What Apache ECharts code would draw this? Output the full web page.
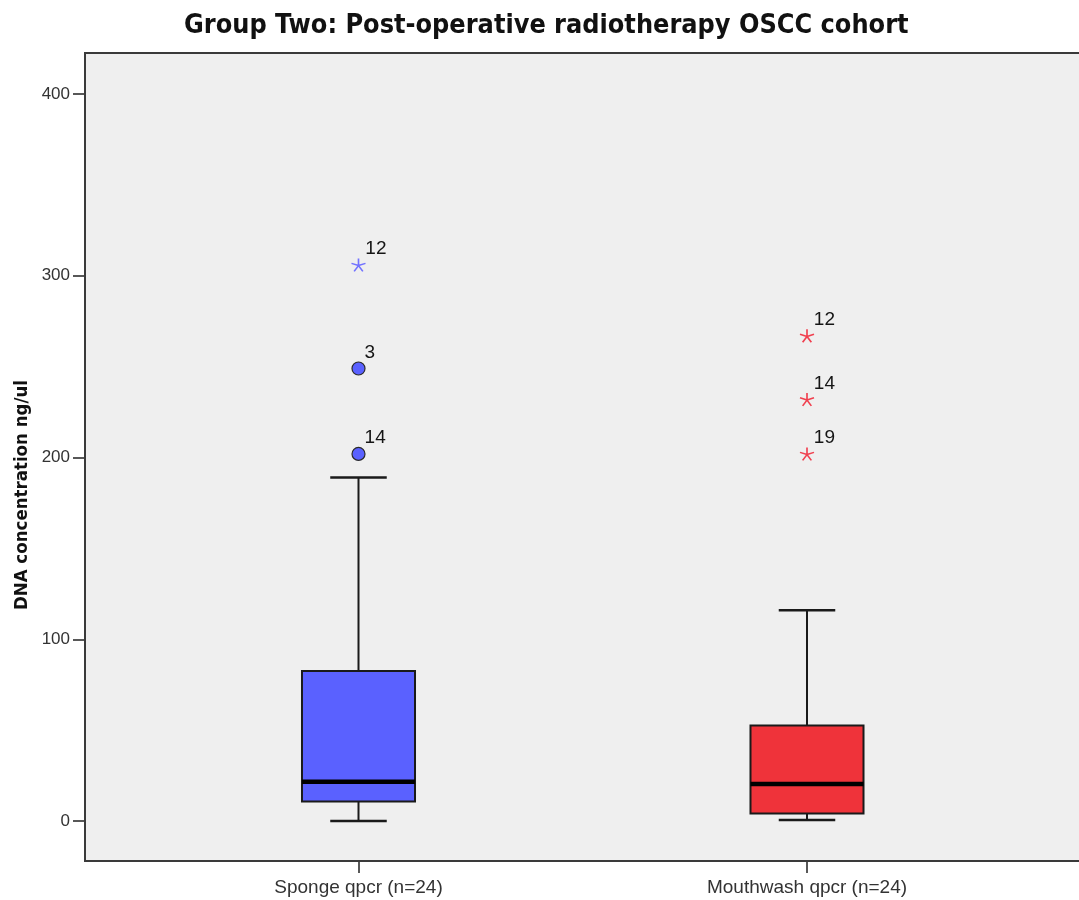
<!DOCTYPE html>
<html>
<head>
<meta charset="utf-8">
<script src="https://cdn.jsdelivr.net/npm/echarts@6/dist/echarts.min.js"></script>
<style>
  html, body { margin: 0; padding: 0; background: #ffffff; }
  #chart { width: 1079px; height: 900px; }
</style>
</head>
<body>
<div id="chart"></div>
<script>
// Categories on the x axis
const categories = ['Sponge qpcr (n=24)', 'Mouthwash qpcr (n=24)'];

// Five-number summaries: lower whisker, Q1, median, Q3, upper whisker
const spongeBox = [0, 10.8, 21.6, 82.5, 189];
const mouthwashBox = [0.5, 4.2, 20.4, 52.6, 116];

// Outliers (circles) and extreme values (asterisks), with case numbers
const spongeOutlierValues = [249, 202];
const spongeOutlierCases = ['3', '14'];
const spongeExtremeValues = [306];
const spongeExtremeCases = ['12'];
const mouthwashExtremeValues = [267, 232, 202];
const mouthwashExtremeCases = ['12', '14', '19'];

// Value axis: labelled ticks and the padded visible range
const yTicks = [0, 100, 200, 300, 400];
const yRange = [-22, 422.6];

const boxColors = ['#5a61ff', '#ef333a'];
const extremeColors = ['#7373ff', '#f0404f'];
const FONT = 'Liberation Sans, Arial, sans-serif';
const NARROW = '"Liberation Sans Narrow", "Arial Narrow", "DejaVu Sans Condensed", sans-serif';

// Five-pointed asterisk, drawn as open strokes
const ASTERISK = 'path://M10,0L10,10M10,10L19.5,6.9M10,10L15.9,18.1M10,10L4.1,18.1M10,10L0.5,6.9';

const boxData = [spongeBox, mouthwashBox].map((b, i) => [i].concat(b));

function pointsFor(catIndex, values, cases) {
  return values.map((v, k) => ({ value: [catIndex, v], caseId: cases[k] }));
}

const outlierLabel = {
  show: true,
  position: 'right',
  distance: -1,
  offset: [0, -16],
  color: '#151515',
  fontSize: 19,
  fontFamily: FONT,
  formatter: p => p.data.caseId
};

const chart = echarts.init(document.getElementById('chart'), null, { renderer: 'canvas' });

chart.setOption({
  animation: false,
  backgroundColor: '#ffffff',
  title: {
    text: 'Group Two: Post-operative radiotherapy OSCC cohort',
    left: 179,
    top: 8,
    textStyle: { fontFamily: NARROW, fontWeight: 'bold', fontSize: 26.8, color: '#111' }
  },
  graphic: [
    {
      type: 'rect', z: -10, silent: true,
      shape: { x: 85, y: 53, width: 1000, height: 808 },
      style: { fill: '#efefef' }
    },
    {
      type: 'polyline', z: 100, silent: true,
      shape: { points: [[1080, 53], [85, 53], [85, 861], [1080, 861]] },
      style: { stroke: '#3a3a3a', lineWidth: 2, fill: null }
    },
    {
      type: 'text', silent: true,
      x: 22, y: 495, rotation: Math.PI / 2,
      style: {
        text: 'DNA concentration ng/ul',
        fontFamily: NARROW, fontWeight: 'bold', fontSize: 18.5,
        fill: '#111', align: 'center', verticalAlign: 'middle'
      }
    }
  ],
  grid: { left: 134.25, right: 47.75, top: 53, bottom: 39, containLabel: false },
  xAxis: {
    type: 'category',
    data: categories,
    axisLine: { show: false, onZero: false },
    axisTick: { show: true, alignWithLabel: true, length: 12, lineStyle: { color: '#222', width: 1.5 } },
    axisLabel: { margin: 17, fontSize: 19, fontFamily: FONT, color: '#333' },
    splitLine: { show: false }
  },
  yAxis: {
    type: 'value',
    min: yRange[0],
    max: yRange[1],
    offset: 49.25,
    axisLine: { show: false },
    axisTick: { show: true, customValues: yTicks, length: 12, lineStyle: { color: '#222', width: 1.5 } },
    axisLabel: { customValues: yTicks, margin: 15, fontSize: 17, fontFamily: FONT, color: '#333' },
    splitLine: { show: false }
  },
  series: [
    {
      type: 'custom',
      silent: true,
      z: 3,
      data: boxData,
      encode: { x: 0, y: [1, 2, 3, 4, 5] },
      renderItem: function (params, api) {
        const idx = api.value(0);
        const band = api.size([1, 0])[0];
        const boxW = band * 0.252;
        const capW = boxW * 0.5;
        const pMin = api.coord([idx, api.value(1)]);
        const pQ1 = api.coord([idx, api.value(2)]);
        const pMed = api.coord([idx, api.value(3)]);
        const pQ3 = api.coord([idx, api.value(4)]);
        const pMax = api.coord([idx, api.value(5)]);
        const cx = pMed[0];
        const stroke = '#1a1a1a';
        return {
          type: 'group',
          children: [
            { type: 'line', shape: { x1: cx, y1: pMax[1], x2: cx, y2: pQ3[1] }, style: { stroke, lineWidth: 2 } },
            { type: 'line', shape: { x1: cx, y1: pQ1[1], x2: cx, y2: pMin[1] }, style: { stroke, lineWidth: 2 } },
            { type: 'line', shape: { x1: cx - capW / 2, y1: pMax[1], x2: cx + capW / 2, y2: pMax[1] }, style: { stroke, lineWidth: 2.5 } },
            { type: 'line', shape: { x1: cx - capW / 2, y1: pMin[1], x2: cx + capW / 2, y2: pMin[1] }, style: { stroke, lineWidth: 2.5 } },
            {
              type: 'rect',
              shape: { x: cx - boxW / 2, y: pQ3[1], width: boxW, height: pQ1[1] - pQ3[1] },
              style: { fill: boxColors[idx], stroke, lineWidth: 2 }
            },
            { type: 'line', shape: { x1: cx - boxW / 2, y1: pMed[1], x2: cx + boxW / 2, y2: pMed[1] }, style: { stroke: '#000', lineWidth: 4.5 } }
          ]
        };
      }
    },
    {
      type: 'scatter',
      silent: true,
      z: 4,
      symbol: 'circle',
      symbolSize: 13,
      itemStyle: { color: boxColors[0], borderColor: '#2a2a2a', borderWidth: 1.2, opacity: 1 },
      label: outlierLabel,
      data: pointsFor(0, spongeOutlierValues, spongeOutlierCases)
    },
    {
      type: 'scatter',
      silent: true,
      z: 4,
      symbol: ASTERISK,
      symbolSize: [14, 13],
      itemStyle: { color: 'rgba(0,0,0,0)', borderColor: extremeColors[0], borderWidth: 1.6, opacity: 1 },
      label: outlierLabel,
      data: pointsFor(0, spongeExtremeValues, spongeExtremeCases)
    },
    {
      type: 'scatter',
      silent: true,
      z: 4,
      symbol: ASTERISK,
      symbolSize: [14, 13],
      itemStyle: { color: 'rgba(0,0,0,0)', borderColor: extremeColors[1], borderWidth: 1.6, opacity: 1 },
      label: outlierLabel,
      data: pointsFor(1, mouthwashExtremeValues, mouthwashExtremeCases)
    }
  ]
});
</script>
</body>
</html>
